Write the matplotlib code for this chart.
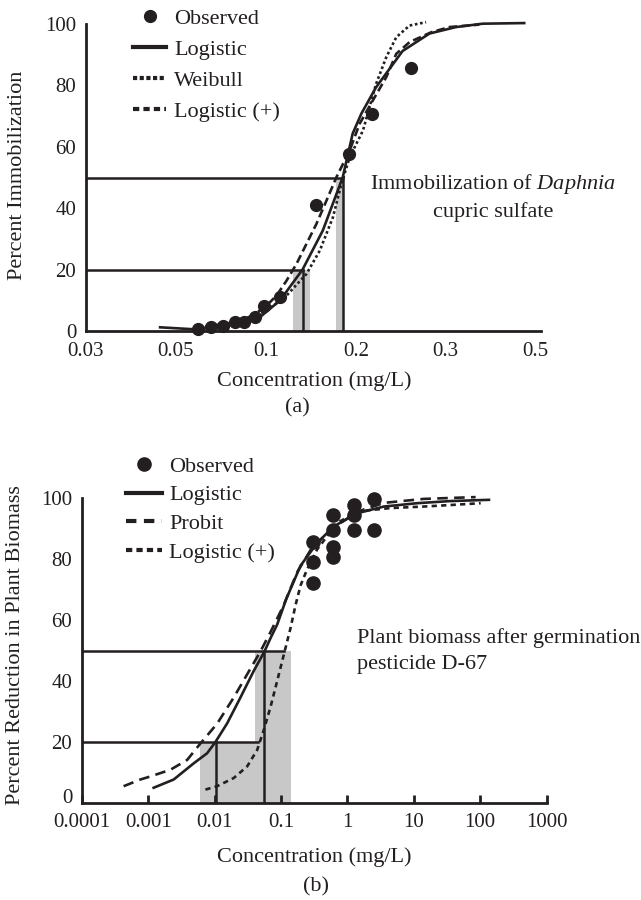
import numpy as np
import matplotlib.pyplot as plt
from matplotlib.lines import Line2D
from matplotlib.transforms import ScaledTranslation

plt.rcParams["font.family"] = "Liberation Serif"
plt.rcParams["mathtext.fontset"] = "custom"
plt.rcParams["mathtext.rm"] = "Liberation Serif"
plt.rcParams["mathtext.it"] = "Liberation Serif:italic"

INK = "#231f20"
BAND = "#c8c8c8"
FS_TICK = 15
FS = 16

# ---------------- (a) Daphnia immobilization, cupric sulfate ----------------
a_xticks = [0.03, 0.05, 0.1, 0.2, 0.3, 0.5]
a_xticklabels = ["0.03", "0.05", "0.1", "0.2", "0.3", "0.5"]

a_obs_conc = [0.0595, 0.0655, 0.0717, 0.0790, 0.0847, 0.0920, 0.0986, 0.1117,
              0.1474, 0.1892, 0.2152, 0.2571]
a_obs_pct = [0.7, 1.2, 1.5, 2.9, 2.9, 4.5, 8.3, 11.2, 40.9, 57.6, 70.8, 85.7]

a_logistic_conc = [0.0457, 0.0588, 0.0955, 0.1114, 0.1327, 0.1551, 0.1809, 0.1953,
                   0.2051, 0.2192, 0.2470, 0.2789, 0.3181, 0.3700, 0.4687]
a_logistic_pct = [1.2, 0.5, 4.5, 9.9, 20.0, 32.7, 50.1, 64.3,
                  70.8, 79.4, 91.2, 96.9, 99.0, 100.1, 100.3]

a_weibull_conc = [0.0626, 0.0820, 0.0993, 0.1157, 0.1368, 0.1516, 0.1678, 0.1790,
                  0.1908, 0.2066, 0.2192, 0.2295, 0.2401, 0.2549, 0.2746]
a_weibull_pct = [1.4, 3.1, 6.4, 10.9, 18.6, 26.2, 37.1, 47.9,
                 56.6, 65.3, 80.5, 89.2, 95.7, 99.5, 100.6]

a_logplus_conc = [0.0790, 0.0885, 0.0993, 0.1087, 0.1173, 0.1267, 0.1368, 0.1477,
                  0.1596, 0.1723, 0.1908, 0.2035, 0.2160, 0.2295, 0.2401, 0.2549,
                  0.2810, 0.3064, 0.3631]
a_logplus_pct = [2.8, 4.7, 7.7, 11.6, 16.4, 21.9, 28.4, 34.9,
                 42.5, 50.1, 58.8, 67.5, 75.1, 82.7, 90.3, 94.1,
                 97.3, 99.0, 99.8]

a_levels = [20, 50]
a_ec = [0.1327, 0.1813]
a_ci_low = [0.1231, 0.1714]
a_ci_high = [0.1404, 0.1813]
a_guide_end = [0.1327, 0.1813]

# ---------------- (b) plant biomass, pesticide D-67 ----------------
b_xticks = [1e-4, 1e-3, 1e-2, 1e-1, 1, 10, 100, 1000]
b_xticklabels = ["0.0001", "0.001", "0.01", "0.1", "1", "10", "100", "1000"]

b_obs_conc = [0.3, 0.3, 0.3, 0.6, 0.6, 0.6, 0.6, 1.25, 1.25, 1.25, 2.5, 2.5]
b_obs_pct = [85.5, 78.9, 72.2, 94.5, 89.6, 84.0, 80.5, 97.7, 94.5, 89.6, 99.6, 89.6]

b_logistic_logc = [-2.92, -2.618, -2.317, -2.115, -1.989, -1.813, -1.612, -1.412,
                   -1.25, -1.16, -1.059, -0.92, -0.707, -0.455, -0.205, 0.148,
                   0.549, 1.053, 1.555, 2.133]
b_logistic_pct = [5.0, 7.7, 13.0, 16.3, 20.0, 26.1, 34.6, 43.3,
                  49.7, 54.0, 58.5, 67.0, 77.8, 85.3, 90.7, 95.0,
                  97.2, 98.3, 99.0, 99.4]

b_probit_logc = [-3.373, -3.121, -2.97, -2.668, -2.416, -2.216, -1.964, -1.713,
                 -1.511, -1.311, -1.16, -0.964, -0.757, -0.531, -0.205, 0.148,
                 0.549, 1.148, 1.932]
b_probit_pct = [5.5, 7.7, 8.7, 10.9, 14.1, 19.5, 26.0, 34.6,
                42.2, 49.7, 56.0, 64.7, 75.7, 83.8, 90.3, 95.5,
                98.4, 99.7, 100.3]

b_logplus_logc = [-2.14, -1.964, -1.713, -1.511, -1.36, -1.261, -1.16, -1.059,
                  -0.959, -0.858, -0.783, -0.707, -0.606, -0.455, -0.154, 0.148,
                  0.65, 1.148, 1.555, 2.008]
b_logplus_pct = [4.4, 5.5, 8.2, 12.0, 17.4, 23.9, 31.4, 40.0,
                 48.6, 57.3, 64.8, 71.3, 76.7, 83.2, 91.8, 95.6,
                 96.7, 97.2, 97.7, 98.3]

b_levels = [20, 50]
b_ec = [0.0103, 0.0562]
b_ci_low = [0.0061, 0.0411]
b_ci_high = [0.0456, 0.139]
b_guide_end = [0.0456, 0.11]


# ---------------- figure in pixel coordinates ----------------
W, H = 641, 900
fig = plt.figure(figsize=(W / 100, H / 100), dpi=100)


def px_axes(left, right, bottom, top):
    return fig.add_axes([left / W, 1 - bottom / H, (right - left) / W, (bottom - top) / H])


def ftext(x, y, s, **kw):
    kw.setdefault("fontsize", FS)
    kw.setdefault("color", INK)
    fig.text(x / W, 1 - y / H, s, **kw)


def style_axes(ax):
    for side in ("top", "right"):
        ax.spines[side].set_visible(False)
    for side in ("left", "bottom"):
        ax.spines[side].set_linewidth(2.0)
        ax.spines[side].set_color(INK)
        ax.spines[side].set_capstyle("projecting")
    ax.set_ylim(0, 100)
    ax.set_yticks(range(0, 101, 20))
    ax.tick_params(axis="y", length=0, pad=7, labelsize=FS_TICK, labelcolor=INK)
    ax.patch.set_alpha(0)


def draw_guides(ax, xmin, levels, ec, lo, hi, ends):
    for lev, e, l, h, end in zip(levels, ec, lo, hi, ends):
        ax.fill_between([l, h], 0, lev, color=BAND, lw=0, zorder=1)
        ax.plot([e, e], [0, lev], color=INK, lw=1.8, zorder=3)
        ax.plot([xmin, end], [lev, lev], color=INK, lw=1.8, zorder=3)


# piecewise-log axis: the listed ticks sit at equal spacing
_knots = np.log(a_xticks + [a_xticks[-1] * a_xticks[-1] / a_xticks[-2]])
_pos = np.arange(len(_knots), dtype=float)


def _fwd(x):
    x = np.asarray(x, dtype=float)
    return np.interp(np.log(np.clip(x, 1e-9, None)), _knots, _pos)


def _inv(p):
    return np.exp(np.interp(p, _pos, _knots))


# ---------- panel (a) ----------
ax = px_axes(86, 541, 331, 24)
ax.set_xscale("function", functions=(_fwd, _inv))
ax.set_xlim(a_xticks[0], float(_inv(5.06)))
style_axes(ax)
ax.set_xticks(a_xticks)
ax.set_xticklabels(a_xticklabels)
ax.minorticks_off()
ax.tick_params(axis="x", length=0, pad=8, labelsize=FS_TICK, labelcolor=INK)

draw_guides(ax, a_xticks[0], a_levels, a_ec, a_ci_low, a_ci_high, a_guide_end)
ax.plot(a_logistic_conc, a_logistic_pct, color=INK, lw=1.9, zorder=4, clip_on=False)
ax.plot(a_weibull_conc, a_weibull_pct, color=INK, lw=1.9, ls=(0, (1, 1)), zorder=4,
        clip_on=False)
ax.plot(a_logplus_conc, a_logplus_pct, color=INK, lw=1.9, ls=(0, (3.2, 1.6)), zorder=4,
        clip_on=False)
ax.plot(a_obs_conc, a_obs_pct, "o", color=INK, ms=8.5, zorder=5, clip_on=False)

legend_a = [
    Line2D([0], [0], marker="o", ls="none", color=INK, ms=8.5),
    Line2D([0], [0], color=INK, lw=3),
    Line2D([0], [0], color=INK, lw=3, ls=(0, (1, 0.6))),
    Line2D([0], [0], color=INK, lw=3, ls=(0, (1.5, 1))),
]
fig.legend(legend_a, ["Observed", "Logistic", "Weibull", "Logistic (+)"],
           loc="upper left", bbox_to_anchor=(133 / W, 1 - 8 / H), frameon=False,
           fontsize=FS, handlelength=1.5, handletextpad=0.35, labelspacing=0.47,
           borderpad=0, borderaxespad=0, labelcolor=INK)

ftext(493, 184, r"Immobilization of $\mathit{Daphnia}$", ha="center", va="center")
ftext(493, 212, "cupric sulfate", ha="center", va="center")
ftext(18, 175, "Percent Immobilization", rotation=90, ha="center", va="center")
ftext(314, 381, "Concentration (mg/L)", ha="center", va="center")
ftext(297, 408, "(a)", ha="center", va="center")

# ---------- panel (b) ----------
ax = px_axes(82, 546.5, 803, 498)
ax.set_xscale("log")
ax.set_xlim(b_xticks[0], b_xticks[-1])
style_axes(ax)
ax.set_xticks(b_xticks)
ax.set_xticklabels(b_xticklabels)
ax.minorticks_off()
ax.tick_params(axis="x", direction="in", length=6, width=2.0, color=INK, pad=7,
               labelsize=FS_TICK, labelcolor=INK)

# lift the "0" label clear of the first x tick label
zero_label = ax.yaxis.get_major_ticks()[0].label1
zero_label.set_transform(zero_label.get_transform()
                         + ScaledTranslation(0, 7 / 100, fig.dpi_scale_trans))

draw_guides(ax, b_xticks[0], b_levels, b_ec, b_ci_low, b_ci_high, b_guide_end)
ax.plot(10 ** np.array(b_logistic_logc), b_logistic_pct, color=INK, lw=1.9, zorder=4,
        clip_on=False)
ax.plot(10 ** np.array(b_probit_logc), b_probit_pct, color=INK, lw=1.9,
        ls=(0, (4, 2.4)), zorder=4, clip_on=False)
ax.plot(10 ** np.array(b_logplus_logc), b_logplus_pct, color=INK, lw=1.9,
        ls=(0, (2, 1.6)), zorder=4, clip_on=False)
ax.plot(b_obs_conc, b_obs_pct, "o", color=INK, ms=9.5, zorder=5, clip_on=False)

legend_b = [
    Line2D([0], [0], marker="o", ls="none", color=INK, ms=9.5),
    Line2D([0], [0], color=INK, lw=3),
    Line2D([0], [0], color=INK, lw=3, ls=(0, (2.5, 1.8))),
    Line2D([0], [0], color=INK, lw=3, ls=(0, (1.5, 1))),
]
fig.legend(legend_b, ["Observed", "Logistic", "Probit", "Logistic (+)"],
           loc="upper left", bbox_to_anchor=(126 / W, 1 - 456 / H), frameon=False,
           fontsize=FS, handlelength=1.6, handletextpad=0.35, labelspacing=0.37,
           borderpad=0, borderaxespad=0, labelcolor=INK)

ftext(357, 638, "Plant biomass after germination", ha="left", va="center")
ftext(357, 664, "pesticide D-67", ha="left", va="center")
ftext(16, 645, "Percent Reduction in Plant Biomass", rotation=90, ha="center",
      va="center")
ftext(314, 857, "Concentration (mg/L)", ha="center", va="center")
ftext(316, 887, "(b)", ha="center", va="center")

fig.savefig("out.png", dpi=100)
